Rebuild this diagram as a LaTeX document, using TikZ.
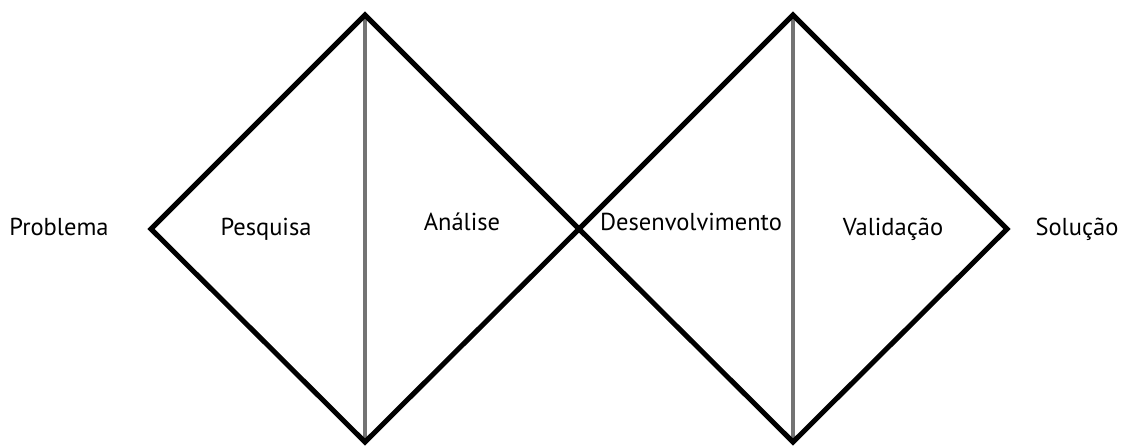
\documentclass[tikz,border=0pt]{standalone}
\usepackage{fontspec}
\setmainfont{PT Sans}
\usetikzlibrary{positioning}

\begin{document}
\begin{tikzpicture}[
  x=1pt, y=-1pt,
  edge/.style={line width=5pt, draw=black, line join=miter},
  divider/.style={line width=4pt, draw=gray!90!black},
  phase/.style={font=\fontsize{24.5}{26}\selectfont, anchor=base, inner sep=0pt}
]
\useasboundingbox (0,0) rectangle (1122,446);

% Vertices of the two diamonds
\coordinate (l1) at (151,229);
\coordinate (t1) at (365,15);
\coordinate (b1) at (365,442);
\coordinate (m)  at (579,229);
\coordinate (t2) at (793,15);
\coordinate (b2) at (793,442);
\coordinate (r2) at (1007,229);

% Dividers
\draw[divider] (t1) -- (b1);
\draw[divider] (t2) -- (b2);

% Diamonds
\draw[edge] (l1) -- (t1) -- (m) -- (b1) -- cycle;
\draw[edge] (m) -- (t2) -- (r2) -- (b2) -- cycle;

% Labels
\node[phase] (prob) at (59,236) {Problema};
\node[phase] (pesq) at (266,236) {Pesquisa};
\node[phase] (anal) at (462,231) {Análise};
\node[phase] (dese) at (691,231) {Desenvolvimento};
\node[phase] (vali) at (893,236) {Validação};
\node[phase] (solu) at (1077,236) {Solução};

\end{tikzpicture}
\end{document}
